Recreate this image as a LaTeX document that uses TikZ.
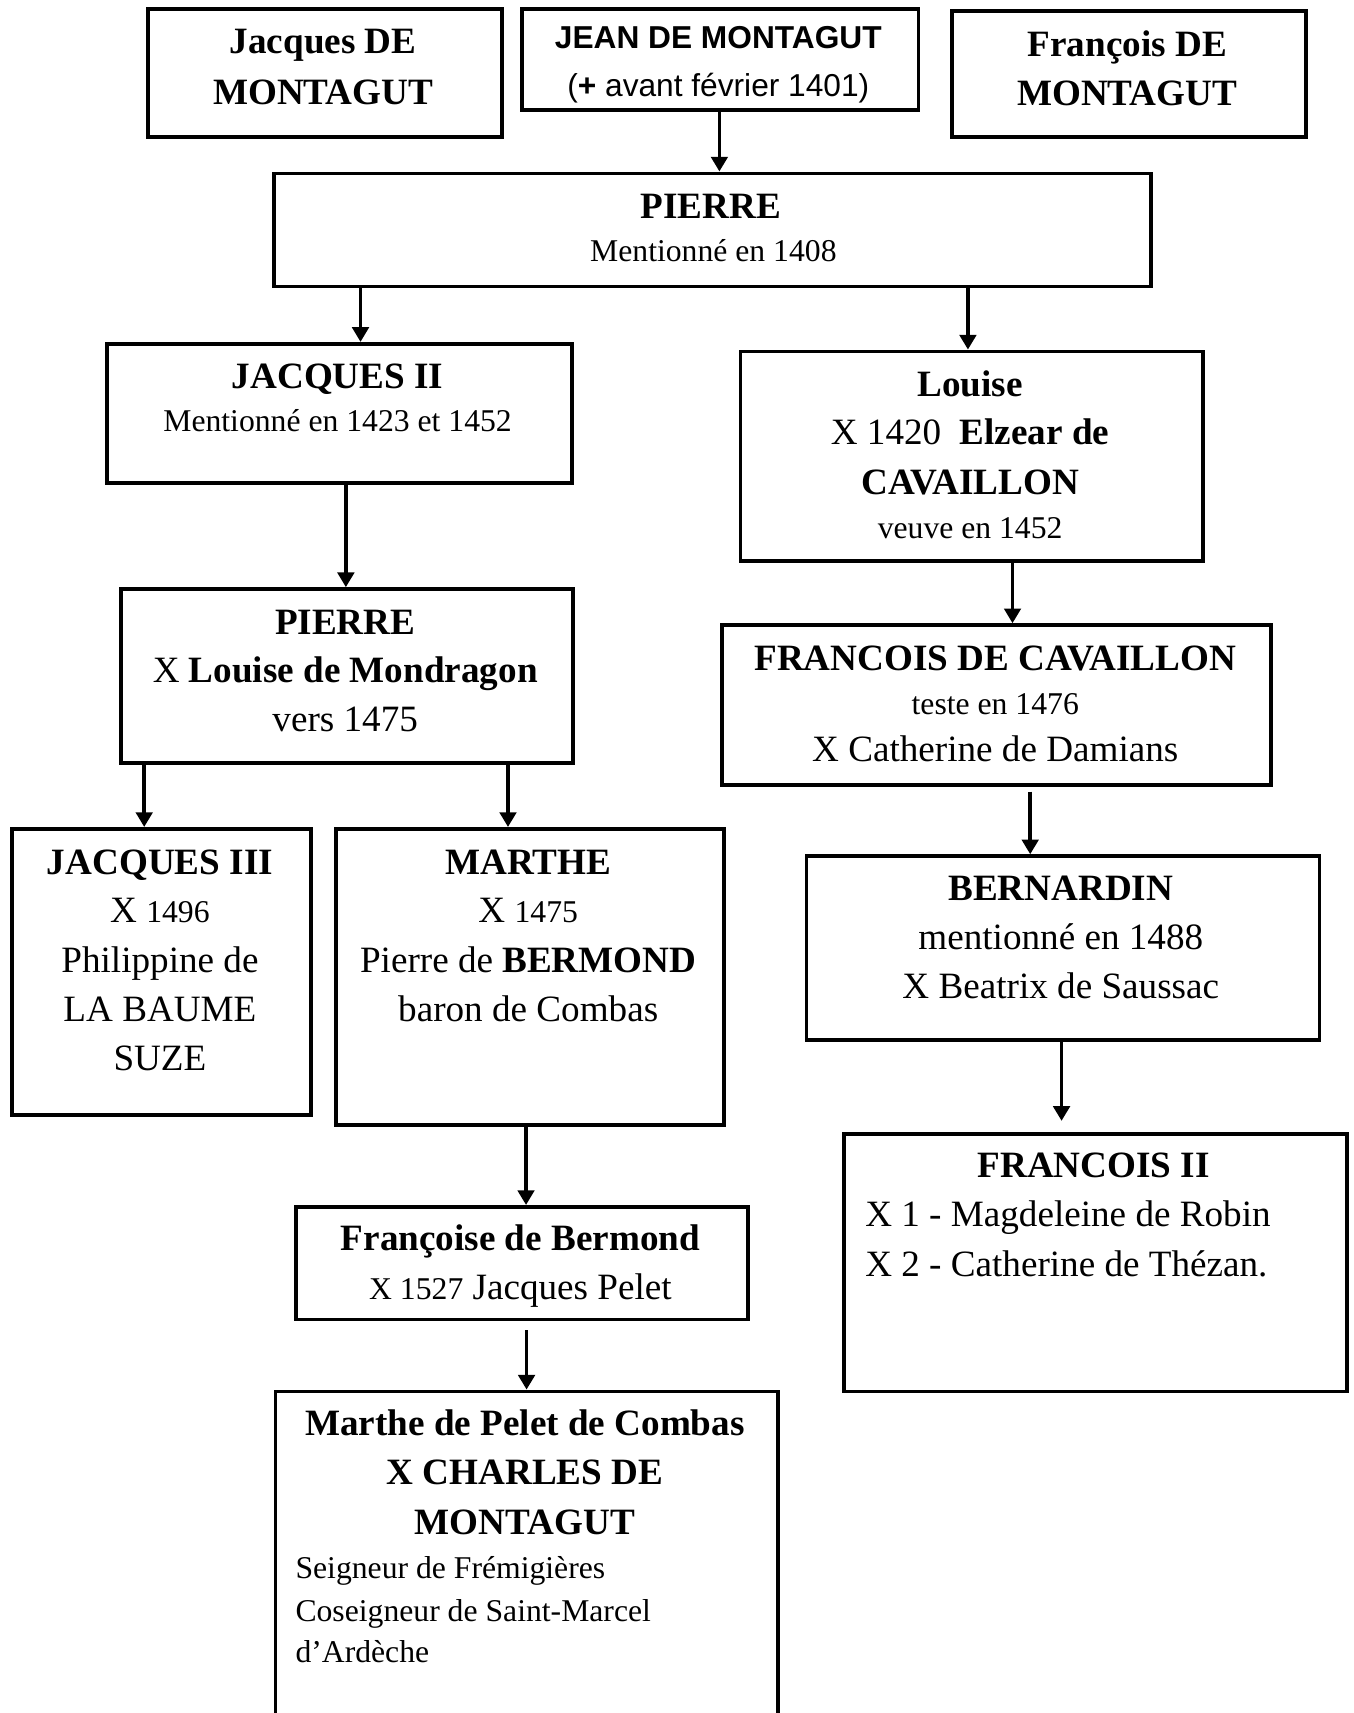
\documentclass[tikz,border=0pt]{standalone}
\usepackage{fontspec}
\setmainfont{Liberation Serif}
\newfontfamily\arialfont{Liberation Sans}
\usetikzlibrary{arrows.meta}

\begin{document}
\begin{tikzpicture}[x=1pt, y=-1pt,
  box/.style={draw, line width=3.5pt, inner sep=0pt, anchor=north west},
  arr/.style={line width=3.4pt, -{Triangle[width=15pt,length=13.5pt]}},
  txt/.style={anchor=base, inner sep=0pt},
  ltxt/.style={anchor=base west, inner sep=0pt},
  tbig/.style={font=\fontsize{34}{40}\selectfont},
  tbigb/.style={font=\fontsize{34}{40}\selectfont\bfseries},
  tsmall/.style={font=\fontsize{29}{34}\selectfont},
  tsans/.style={font=\arialfont\fontsize{29}{34}\selectfont},
  tsansb/.style={font=\arialfont\fontsize{29}{34}\selectfont\bfseries}]

\useasboundingbox (0,0) rectangle (1239,1568);
\fill[white] (0,0) rectangle (1239,1568);
\clip (0,0) rectangle (1239,1568);

% ---- boxes ----
\node[box, minimum width=323.5pt, minimum height=117pt]   (jacq)    at (134,6.5)    {};
\node[box, minimum width=363pt,   minimum height=92.5pt]  (jean)    at (476,6.5)    {};
\node[box, minimum width=323.5pt, minimum height=115pt]   (fran)    at (870,8.5)    {};
\node[box, minimum width=803pt,   minimum height=103.5pt] (pierre)  at (249,157)    {};
\node[box, minimum width=426pt,   minimum height=127.5pt] (jacqII)  at (96,313)     {};
\node[box, minimum width=423.5pt, minimum height=192pt]   (louise)  at (676,320)    {};
\node[box, minimum width=413.5pt, minimum height=159.5pt] (pierreII) at (109,537.5) {};
\node[box, minimum width=502.5pt, minimum height=146.5pt] (fdc)     at (659.5,570.5) {};
\node[box, minimum width=273.5pt, minimum height=262pt]   (jacqIII) at (9.5,757)    {};
\node[box, minimum width=355pt,   minimum height=271pt]   (marthe)  at (306,757)    {};
\node[box, minimum width=469.5pt, minimum height=168pt]   (bern)    at (736.5,782)  {};
\node[box, minimum width=460pt,   minimum height=236pt]   (franII)  at (771,1036)   {};
\node[box, minimum width=413.5pt, minimum height=103pt]   (fbermond) at (269.5,1103) {};
\node[box, minimum width=460pt,   minimum height=338pt]   (mpelet)  at (250.5,1272) {};

% ---- texts ----
\node[txt, tbigb] (t1a) at (295.8,49.4) {Jacques DE};
\node[txt, tbigb] (t1b) at (295.8,95.2) {MONTAGUT};

\node[txt, tsansb] (t2a) at (657.5,44.2) {JEAN DE MONTAGUT};
\node[txt, tsans]  (t2b) at (657.5,88.5) {(\textbf{+} avant février 1401)};

\node[txt, tbigb] (t3a) at (1031.8,51.7) {François DE};
\node[txt, tbigb] (t3b) at (1031.8,97) {MONTAGUT};

\node[txt, tbigb]  (t4a) at (650.6,199.8) {PIERRE};
\node[txt, tsmall] (t4b) at (653,239.5) {Mentionné en 1408};

\node[txt, tbigb]  (t5a) at (309,355.4) {JACQUES II};
\node[txt, tsmall] (t5b) at (309,395) {Mentionné en 1423 et 1452};

\node[txt, tbigb]  (t6a) at (888,363) {Louise};
\node[txt, tbig]   (t6b) at (888,407.2) {X 1420\ \ \textbf{Elzear de}};
\node[txt, tbigb]  (t6c) at (888,453) {CAVAILLON};
\node[txt, tsmall] (t6d) at (888,492.6) {veuve en 1452};

\node[txt, tbigb] (t7a) at (316,580.5) {PIERRE};
\node[txt, tbig]  (t7b) at (316,624.7) {X \textbf{Louise de Mondragon}};
\node[txt, tbig]  (t7c) at (316,669.5) {vers 1475};

\node[txt, tbigb]  (t8a) at (911,613.7) {FRANCOIS DE CAVAILLON};
\node[txt, tsmall] (t8b) at (911,653.7) {teste en 1476};
\node[txt, tbig]   (t8c) at (911,697) {X Catherine de Damians};

\node[txt, tbigb] (t9a) at (146.4,800.3) {JACQUES III};
\node[txt, tbig]  (t9b) at (146.4,844.5) {X {\fontsize{29}{34}\selectfont 1496}};
\node[txt, tbig]  (t9c) at (146.4,890.3) {Philippine de};
\node[txt, tbig]  (t9d) at (146.4,935.3) {LA BAUME};
\node[txt, tbig]  (t9e) at (146.4,980) {SUZE};

\node[txt, tbigb] (t10a) at (483.5,800.3) {MARTHE};
\node[txt, tbig]  (t10b) at (483.5,844.5) {X {\fontsize{29}{34}\selectfont 1475}};
\node[txt, tbig]  (t10c) at (483.5,890.3) {Pierre de \textbf{BERMOND}};
\node[txt, tbig]  (t10d) at (483.5,935.3) {baron de Combas};

\node[txt, tbigb] (t11a) at (971,824.7) {BERNARDIN};
\node[txt, tbig]  (t11b) at (971,868.8) {mentionné en 1488};
\node[txt, tbig]  (t11c) at (971,914.3) {X Beatrix de Saussac};

\node[txt, tbigb] (t12a) at (1001,1078) {FRANCOIS II};
\node[ltxt, tbig] (t12b) at (791.8,1122.8) {X 1 - Magdeleine de Robin};
\node[ltxt, tbig] (t12c) at (791.8,1168.7) {X 2 - Catherine de Thézan.};

\node[txt, tbigb] (t13a) at (476.4,1144.5) {Françoise de Bermond};
\node[txt, tbig]  (t13b) at (476.4,1189.3) {{\fontsize{29}{34}\selectfont X 1527} Jacques Pelet};

\node[txt, tbigb]   (t14a) at (480.5,1314) {Marthe de Pelet de Combas};
\node[txt, tbigb]   (t14b) at (480.5,1359) {X CHARLES DE};
\node[txt, tbigb]   (t14c) at (480.5,1404.7) {MONTAGUT};
\node[ltxt, tsmall] (t14d) at (270.3,1445.2) {Seigneur de Frémigières};
\node[ltxt, tsmall] (t14e) at (270.3,1484) {Coseigneur de Saint-Marcel};
\node[ltxt, tsmall] (t14f) at (270.3,1522) {d’Ardèche};

% ---- connector columns ----
\coordinate (xa) at (658.5,0);
\coordinate (xb) at (330,0);
\coordinate (xc) at (886,0);
\coordinate (xd) at (316.6,0);
\coordinate (xe) at (926.8,0);
\coordinate (xf) at (132,0);
\coordinate (xg) at (465,0);
\coordinate (xh) at (943,0);
\coordinate (xi) at (481.5,0);
\coordinate (xj) at (971.7,0);
\coordinate (xk) at (482,0);

% ---- connectors ----
\draw[arr] (jean.south -| xa) -- (pierre.north -| xa);
\draw[arr] (pierre.south -| xb) -- (jacqII.north -| xb);
\draw[arr] (pierre.south -| xc) -- (louise.north -| xc);
\draw[arr] (jacqII.south -| xd) -- (pierreII.north -| xd);
\draw[arr] (louise.south -| xe) -- (fdc.north -| xe);
\draw[arr] (pierreII.south -| xf) -- (jacqIII.north -| xf);
\draw[arr] (pierreII.south -| xg) -- (marthe.north -| xg);
\draw[arr, shorten <=4pt] (fdc.south -| xh) -- (bern.north -| xh);
\draw[arr] (marthe.south -| xi) -- (fbermond.north -| xi);
\draw[arr, shorten >=10pt] (bern.south -| xj) -- (franII.north -| xj);
\draw[arr, shorten <=8pt] (fbermond.south -| xk) -- (mpelet.north -| xk);

\end{tikzpicture}
\end{document}
